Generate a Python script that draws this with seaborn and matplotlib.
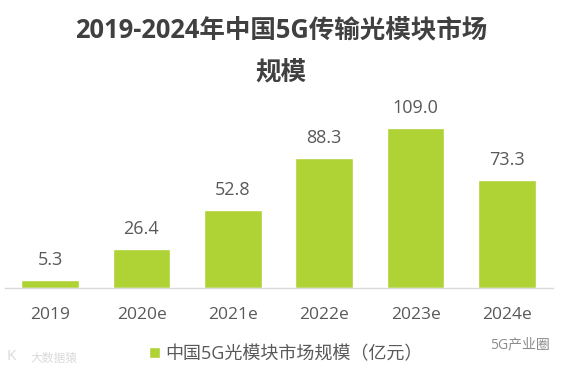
import matplotlib
matplotlib.use("Agg")
import matplotlib.pyplot as plt
import seaborn as sns
import pandas as pd

categories = ["2019", "2020e", "2021e", "2022e", "2023e", "2024e"]
values = [5.3, 26.4, 52.8, 88.3, 109.0, 73.3]
title_line1 = "2019-2024年中国5G传输光模块市场"
title_line2 = "规模"
legend_label = "中国5G光模块市场规模（亿元）"
watermark_left = "大数据猿"
watermark_right = "5G产业圈"

sns.set_theme(style="white")
plt.rcParams["font.family"] = ["Open Sans", "Noto Sans CJK SC", "DejaVu Sans"]

W, H = 567, 370
fig = plt.figure(figsize=(W / 100, H / 100), dpi=100, facecolor="white")
ax = fig.add_axes([4.5 / W, 1 - 288 / H, 548 / W, 160 / H])

df = pd.DataFrame({"year": categories, "value": values})
sns.barplot(data=df, x="year", y="value", color="#AFD235", saturation=1,
            width=0.63, ax=ax, label=legend_label)
ax.set_ylim(0, 109.0)
ax.set_xlim(-0.5, 5.5)
ax.set_xlabel("")
ax.set_ylabel("")
ax.set_yticks([])
ax.tick_params(axis="x", length=0, pad=14, labelsize=12.5, labelcolor="#595959")
for name, s in ax.spines.items():
    s.set_visible(name == "bottom")
ax.spines["bottom"].set_color("#D9D9D9")
ax.spines["bottom"].set_linewidth(1)
ax.bar_label(ax.containers[0], fmt="%.1f", padding=8, fontsize=13, color="#595959")
for t in ax.texts:
    t.set_clip_on(False)

fig.text(281 / W, 1 - 30 / H, title_line1, ha="center", va="center",
         fontsize=18.4, fontweight="bold", color="#404040")
fig.text(281 / W, 1 - 72 / H, title_line2, ha="center", va="center",
         fontsize=18.4, fontweight="bold", color="#404040")

leg = ax.legend(loc="center", bbox_to_anchor=(286 / W, 1 - 354 / H),
                bbox_transform=fig.transFigure, frameon=False, fontsize=13,
                handlelength=0.6, handleheight=0.6, handletextpad=0.33,
                labelcolor="#595959", borderpad=0)

fig.text(7 / W, 1 - 357 / H, "K", ha="left", va="center",
         fontsize=11, color="#DADADA")
fig.text(30 / W, 1 - 358 / H, watermark_left, ha="left", va="center",
         fontsize=8.5, color="#DADADA")
fig.text(490 / W, 1 - 345 / H, watermark_right, ha="left", va="center",
         fontsize=10, color="#8C8C8C")

fig.savefig("out.png", dpi=100, facecolor="white")
